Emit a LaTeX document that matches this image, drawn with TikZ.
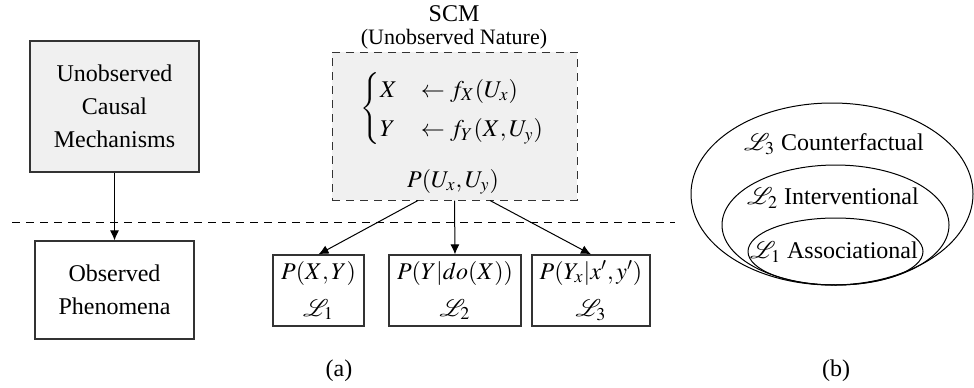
\documentclass[tikz,border=0pt]{standalone}
\usepackage{amsmath}
\usepackage{mathptmx}
\usepackage[no-math]{fontspec}
\setmainfont{Liberation Serif}
\usetikzlibrary{positioning,arrows.meta}
\definecolor{cFill}{HTML}{F0F0F0}
\definecolor{cLine}{HTML}{333333}

\begin{document}
\begin{tikzpicture}[x=0.5pt,y=-0.5pt,font=\fontsize{12}{16.5}\selectfont,>={Latex[length=5pt,width=4.5pt]},
  box/.style={draw=cLine,line width=0.6pt,align=center,inner sep=2pt},
  gbox/.style={box,fill=cFill},
  lvl/.style={box,minimum height=35.5pt},
  link/.style={->,line width=0.5pt},
  sep/.style={line width=0.5pt,dash pattern=on 4pt off 3pt}]
\useasboundingbox (0,0) rectangle (974,387);
% ---------- (a) ----------
\node[gbox,minimum width=84.5pt,minimum height=65.5pt] (mech) at (114.5,106.5) {Unobserved\\Causal\\Mechanisms};
\node[box,minimum width=79.5pt,minimum height=49pt] (obs) at (114.5,290) {Observed\\Phenomena};
\draw[sep] (12,222) -- (675,222);
\draw[link] (mech) -- (obs);
\node (scmtitle) at (454,14) {SCM};
\node[font=\fontsize{11}{13}\selectfont] (scmsub) at (454,39) {(Unobserved Nature)};
\node[draw=cLine,fill=cFill,sep,minimum width=122.5pt,minimum height=74pt] (scm) at (454.5,126) {};
\node (eqs) at (453,109) {$\begin{cases} X & \leftarrow f_X(U_x)\\ Y & \leftarrow f_Y(X,U_y)\end{cases}$};
\node (pu) at (453,182) {$P(U_x,U_y)$};
\node[lvl,minimum width=45.5pt] (l1) at (318.5,290.5) {$P(X,Y)$\\[2pt]$\mathcal{L}_1$};
\node[lvl,minimum width=66pt] (l2) at (455,290.5) {$P(Y|do(X))$\\[2pt]$\mathcal{L}_2$};
\node[lvl,minimum width=59pt] (l3) at (591,290.5) {$P(Y_x|x',y')$\\[2pt]$\mathcal{L}_3$};
\draw[link] ([xshift=-18.25pt]scm.south) -- (l1.north);
\draw[link] (scm.south) -- (l2.north);
\draw[link] ([xshift=17.75pt]scm.south) -- (l3.north);
\node (capa) at (339,371) {(a)};
% ---------- (b) ----------
\draw[line width=0.5pt] (832,194) ellipse [x radius=70.5pt,y radius=45.5pt];
\draw[line width=0.5pt] (835.5,225) ellipse [x radius=56.75pt,y radius=30pt];
\draw[line width=0.5pt] (835.5,251.5) ellipse [x radius=43.75pt,y radius=16.75pt];
\node (cf) at (834,144) {$\mathcal{L}_3$ Counterfactual};
\node (iv) at (833,198) {$\mathcal{L}_2$ Interventional};
\node (as) at (834,252) {$\mathcal{L}_1$ Associational};
\node (capb) at (836,371) {(b)};
\end{tikzpicture}
\end{document}
